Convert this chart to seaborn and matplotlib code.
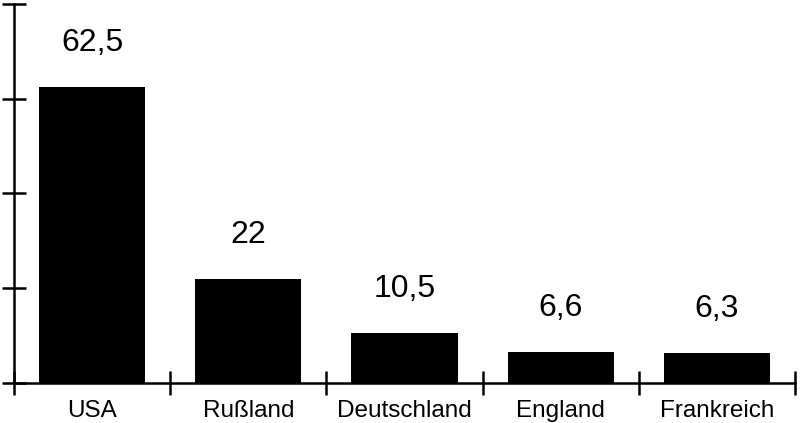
import seaborn as sns
import matplotlib.pyplot as plt
from matplotlib.ticker import FixedLocator

# Werte aus dem Diagramm
laender = ['USA', 'Rußland', 'Deutschland', 'England', 'Frankreich']
werte = [62.5, 22, 10.5, 6.6, 6.3]
beschriftung = ['62,5', '22', '10,5', '6,6', '6,3']
y_ticks = [0, 20, 40, 60, 80]

sns.set_style('white')
plt.rcParams['font.family'] = ['Liberation Sans', 'DejaVu Sans']

fig = plt.figure(figsize=(8, 4.23), dpi=100)
ax = fig.add_axes([0.0175, 0.0946, 0.9763, 0.896])

sns.barplot(x=laender, y=werte, color='black', width=0.68, saturation=1,
            edgecolor='black', linewidth=0, ax=ax)

ax.set_xlim(-0.5, len(laender) - 0.5)
ax.set_ylim(0, 80)

for i, (v, txt) in enumerate(zip(werte, beschriftung)):
    ax.annotate(txt, (i, v), xytext=(0, 21), textcoords='offset points',
                ha='center', va='bottom', fontsize=23, color='black')

sns.despine(ax=ax)
for side in ('left', 'bottom'):
    ax.spines[side].set_linewidth(1.8)
    ax.spines[side].set_color('black')

ax.set_yticks(y_ticks)
ax.set_yticklabels([])
ax.tick_params(axis='y', direction='inout', length=17, width=1.8, color='black', left=True)

ax.xaxis.set_minor_locator(FixedLocator([i - 0.5 for i in range(len(laender) + 1)]))
ax.tick_params(axis='x', which='minor', direction='inout', length=17, width=1.8,
               color='black', bottom=True)
ax.tick_params(axis='x', which='major', length=0, pad=12, labelsize=17.5,
               labelcolor='black')
ax.set_xlabel('')
ax.set_ylabel('')

for s in ax.spines.values():
    s.set_clip_on(False)

fig.savefig('out.png', dpi=100)
plt.close(fig)
